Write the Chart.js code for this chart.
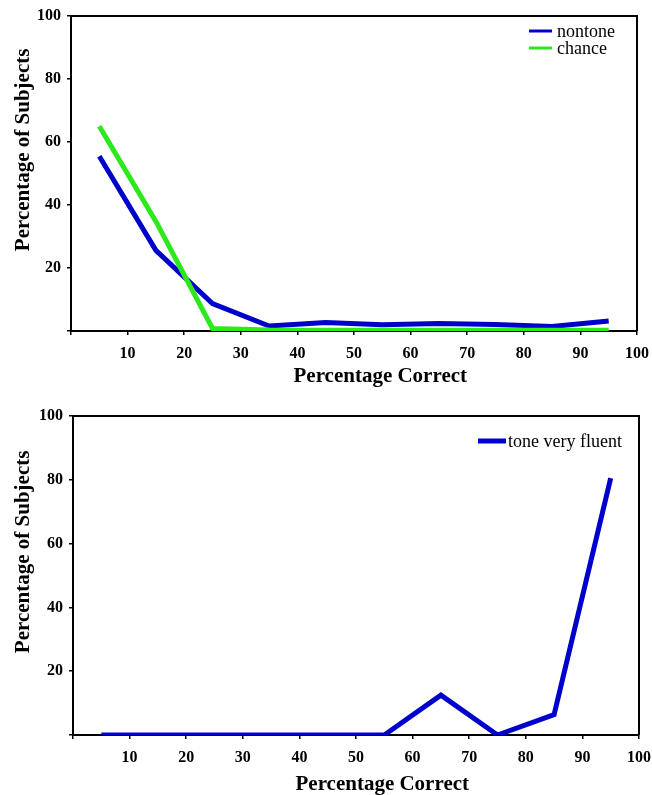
<!DOCTYPE html>
<html>
<head>
<meta charset="utf-8">
<script src="https://cdn.jsdelivr.net/npm/chart.js@4.4.1/dist/chart.umd.min.js"></script>
<style>
  html, body { margin: 0; padding: 0; background: #fff; }
  canvas { display: block; }
</style>
</head>
<body>
<canvas id="topChart" width="652" height="397"></canvas>
<canvas id="bottomChart" width="652" height="398"></canvas>
<script>
// bin centres (percentage correct)
var bins = [5, 15, 25, 35, 45, 55, 65, 75, 85, 95];

// top panel
var nontone = [55.5, 25.6, 8.7, 1.6, 2.7, 2.0, 2.4, 2.1, 1.4, 3.2];
var chance = [65.0, 34.8, 0.8, 0.3, 0.2, 0.2, 0.2, 0.2, 0.2, 0.2];

// bottom panel
var toneVeryFluent = [0, 0, 0, 0, 0, 0, 12.5, 0, 6.4, 80.5];

var xTitle = 'Percentage Correct';
var yTitle = 'Percentage of Subjects';

Chart.defaults.font.family = '"Liberation Serif", "Times New Roman", serif';
Chart.defaults.color = '#000';

function points(values)
{
    return values.map(function (v, i) {
        return {x: bins[i], y: v};
    });
}

function hideZero(value)
{
    return value === 0 ? '' : value;
}

// titles sit off-centre in the original, pad them with leading spaces
function shifted(text, n)
{
    return ' '.repeat(n) + text;
}

// frame on top and right of the plot
var framePlugin = {
    id: 'frame',
    afterDraw: function (chart) {
        var a = chart.chartArea;
        var ctx = chart.ctx;
        ctx.save();
        ctx.strokeStyle = '#000';
        ctx.lineWidth = 2;
        ctx.beginPath();
        ctx.moveTo(a.left, a.top);
        ctx.lineTo(a.right, a.top);
        ctx.lineTo(a.right, a.bottom);
        ctx.stroke();
        ctx.restore();
    }
};

// legend drawn inside the plot, upper right
var boxLegend = {
    id: 'boxLegend',
    afterDraw: function (chart, args, opts) {
        var a = chart.chartArea;
        var ctx = chart.ctx;
        ctx.save();
        ctx.font = '18px "Liberation Serif", "Times New Roman", serif';
        ctx.textBaseline = 'middle';
        ctx.fillStyle = '#000';
        chart.data.datasets.forEach(function (ds, i) {
            var x = a.right - opts.fromRight;
            var y = a.top + opts.fromTop + i * opts.rowHeight;
            ctx.strokeStyle = ds.borderColor;
            ctx.lineWidth = opts.lineWidth;
            ctx.beginPath();
            ctx.moveTo(x, y);
            ctx.lineTo(x + opts.lineLength, y);
            ctx.stroke();
            ctx.fillText(ds.label, x + opts.lineLength + opts.gap, y + 1);
        });
        ctx.restore();
    }
};

function makeScales(yWidth, xHeight)
{
    return {
        x: {
            type: 'linear',
            min: 0,
            max: 100,
            afterFit: function (s) {
                s.height = xHeight;
                s.paddingLeft = 0;
                s.paddingRight = 0;
            },
            ticks: {
                stepSize: 10,
                autoSkip: false,
                maxRotation: 0,
                padding: 9,
                callback: hideZero,
                font: {size: 16, weight: 'bold'},
                color: '#000'
            },
            grid: {drawOnChartArea: false, tickLength: 4, color: '#000', lineWidth: 1.5},
            border: {color: '#000', width: 2},
            title: {
                display: true,
                text: shifted(xTitle, 10),
                color: '#000',
                font: {size: 21, weight: 'bold', lineHeight: 1},
                padding: {top: 0, bottom: 0}
            }
        },
        y: {
            type: 'linear',
            min: 0,
            max: 100,
            afterFit: function (s) {
                s.width = yWidth;
                s.paddingTop = 0;
                s.paddingBottom = 0;
            },
            ticks: {
                stepSize: 20,
                padding: 6,
                callback: hideZero,
                font: {size: 16, weight: 'bold'},
                color: '#000'
            },
            grid: {drawOnChartArea: false, tickLength: 4, color: '#000', lineWidth: 1.5},
            border: {color: '#000', width: 2},
            title: {
                display: true,
                text: shifted(yTitle, 9),
                color: '#000',
                font: {size: 21, weight: 'bold', lineHeight: 1},
                padding: {top: 13, bottom: 0}
            }
        }
    };
}

var topScales = makeScales(71, 66);
topScales.x.title.padding.bottom = 10;

var topChart = new Chart(document.getElementById('topChart'), {
    type: 'line',
    data: {
        datasets: [{
            label: 'nontone',
            data: points(nontone),
            borderColor: '#0000cc',
            borderWidth: 5,
            pointRadius: 0,
            clip: 0,
            order: 1
        }, {
            label: 'chance',
            data: points(chance),
            borderColor: '#2ee81e',
            borderWidth: 5,
            pointRadius: 0,
            clip: 0,
            order: 0
        }]
    },
    options: {
        responsive: false,
        animation: false,
        layout: {padding: {left: 0, top: 16, right: 15, bottom: 0}},
        plugins: {
            legend: {display: false},
            tooltip: {enabled: false},
            boxLegend: {fromRight: 108, fromTop: 15, rowHeight: 17, lineLength: 23, lineWidth: 3, gap: 5}
        },
        scales: topScales
    },
    plugins: [framePlugin, boxLegend]
});

var bottomScales = makeScales(73, 60);

var bottomChart = new Chart(document.getElementById('bottomChart'), {
    type: 'line',
    data: {
        datasets: [{
            label: 'tone very fluent',
            data: points(toneVeryFluent),
            borderColor: '#0000cc',
            borderWidth: 5,
            pointRadius: 0,
            clip: 0
        }]
    },
    options: {
        responsive: false,
        animation: false,
        layout: {padding: {left: 0, top: 19, right: 13, bottom: 0}},
        plugins: {
            legend: {display: false},
            tooltip: {enabled: false},
            boxLegend: {fromRight: 161, fromTop: 25, rowHeight: 17, lineLength: 28, lineWidth: 5, gap: 2}
        },
        scales: bottomScales
    },
    plugins: [framePlugin, boxLegend]
});
</script>
</body>
</html>
